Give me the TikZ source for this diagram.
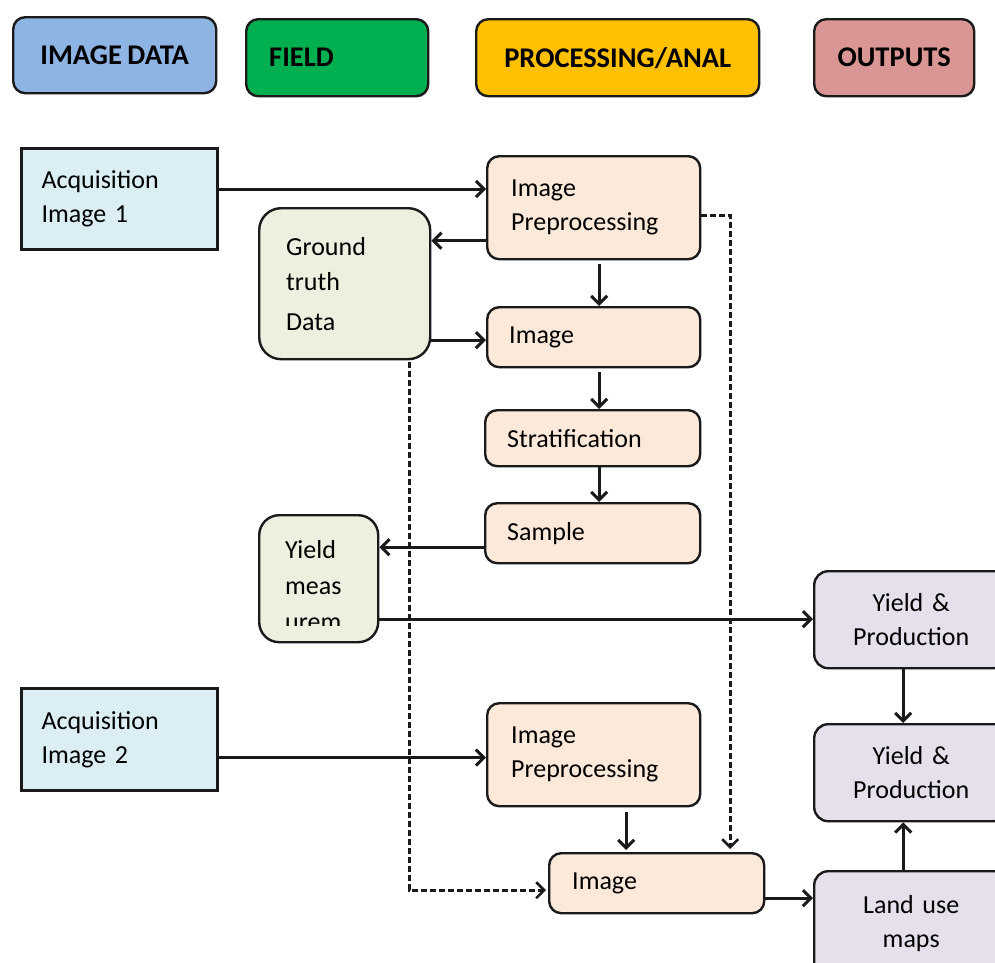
\documentclass[tikz,border=0pt]{standalone}
\usepackage{fontspec}
\setmainfont{Carlito}[WordSpace=0.85]
\usetikzlibrary{arrows.meta,calc}
\definecolor{hImg}{HTML}{8EB4E3}
\definecolor{hField}{HTML}{00B050}
\definecolor{hProc}{HTML}{FFC000}
\definecolor{hOut}{HTML}{D99694}
\definecolor{fAcq}{HTML}{DAEEF3}
\definecolor{fProc}{HTML}{FDE9D9}
\definecolor{fField}{HTML}{EBF1DE}
\definecolor{fOut}{HTML}{E5E0EC}
\definecolor{edge}{HTML}{1A1A1A}
\begin{document}
\begin{tikzpicture}[x=1pt,y=-1pt,
  txt/.style={font=\fontsize{26}{34}\selectfont},
  hdr/.style={draw=edge, line width=2.4pt, rounded corners=12pt, anchor=north west,
    inner sep=0pt, align=center, font=\fontsize{28.5}{34}\bfseries\selectfont},
  bx/.style={draw=edge, line width=2.4pt, anchor=north west, inner ysep=0pt, align=left, txt},
  acq/.style={bx, fill=fAcq, line width=3pt, text width=156pt, inner xsep=20pt},
  proc/.style={bx, fill=fProc, rounded corners=12pt},
  fld/.style={bx, fill=fField, rounded corners=22pt},
  outb/.style={bx, fill=fOut, rounded corners=14pt, align=center, text width=174pt, inner xsep=10pt},
  arr/.style={line width=3pt, draw=edge, -{Straight Barb[length=8pt,width=16pt]}},
  darr/.style={arr, line width=2.6pt, dash pattern=on 6pt off 3pt}
]
\useasboundingbox (0,0) rectangle (995,962);
\clip (0,0) rectangle (995,962);

% legend
\node[hdr, fill=hImg, minimum width=203pt, minimum height=76pt] (h1) at (12,16) {IMAGE DATA};
\node[hdr, fill=hField, minimum width=182pt, minimum height=77pt, align=left, text width=136pt, inner xsep=23pt] (h2) at (245,18) {FIELD};
\node[hdr, fill=hProc, minimum width=283pt, minimum height=77pt] (h3) at (475,18) {PROCESSING/ANAL};
\node[hdr, fill=hOut, minimum width=160pt, minimum height=77pt] (h4) at (813,18) {OUTPUTS};

% image data
\node[acq, minimum height=101pt] (acq1) at (20,147) {Acquisition\\Image 1};
\node[acq, minimum height=102pt] (acq2) at (20,687) {Acquisition\\Image 2};

% processing
\node[proc, text width=165pt, inner xsep=24pt, minimum height=103pt] (ip1) at (486,155) {Image\\Preprocessing};
\node[proc, text width=169pt, inner xsep=22pt, minimum height=60pt] (img2) at (486,306) {Image};
\node[proc, text width=171pt, inner xsep=22pt, minimum height=56pt] (strat) at (484,409) {Stratification};
\node[proc, text width=171pt, inner xsep=22pt, minimum height=60pt] (sample) at (484,502) {Sample};
\node[proc, text width=165pt, inner xsep=24pt, minimum height=103pt] (ip2) at (486,702) {Image\\Preprocessing};
\node[proc, text width=169pt, inner xsep=23pt, minimum height=60pt] (img3) at (548,852) {Image};

% field
\node[fld, text width=117pt, inner xsep=27pt, minimum height=151pt, font=\fontsize{26}{35}\selectfont] (gt) at (258,207) {Ground\\truth\\[5pt]Data};
\node[fld, rounded corners=20pt, minimum width=119pt, minimum height=127pt] (ym) at (258,514) {};
\begin{scope}
  \clip (258,514) rectangle (377,625);
  \node[anchor=north west, inner sep=0pt, align=left, font=\fontsize{26}{36}\selectfont] (ymt) at (285,540) {Yield\\meas\\urem};
\end{scope}

% outputs
\node[outb, minimum height=97pt] (yp1) at (813,570) {Yield \&\\Production};
\node[outb, minimum height=97pt] (yp2) at (813,723) {Yield \&\\Production};
\node[outb, minimum height=105pt] (lu) at (813,870) {Land use\\maps};

% connectors
\draw[arr] ($(acq1.east)+(0,-10)$) -- ($(acq1.east -| ip1.west)+(0,-10)$);
\draw[arr] ($(ip1.west)+(0,33)$) -- ($(ip1.west -| gt.east)+(0,33)$);
\draw[arr] ($(ip1.south)+(5.5,4)$) -- ($(img2.north)+(5.5,0)$);
\draw[arr] ($(gt.east |- img2.west)+(0,3)$) -- ($(img2.west)+(0,3)$);
\draw[arr] ($(img2.south)+(5.5,4)$) -- ($(strat.north)+(6.5,0)$);
\draw[arr] ($(strat.south)+(6.5,0)$) -- ($(sample.north)+(6.5,0)$);
\draw[arr] ($(sample.west)+(0,14)$) -- ($(sample.west -| ym.east)+(0,14)$);
\draw[arr] ($(ym.east)+(0,40.5)$) -- ($(ym.east -| yp1.west)+(0,40.5)$);
\draw[arr] ($(yp1.south)+(-8,0)$) -- ($(yp2.north)+(-8,0)$);
\draw[arr] ($(lu.north)+(-8,0)$) -- ($(yp2.south)+(-8,0)$);
\draw[arr] ($(acq2.east)+(0,18)$) -- ($(acq2.east -| ip2.west)+(0,18)$);
\draw[arr] ($(ip2.south)+(32.5,5)$) -- ($(img3.north)+(-30.5,-2)$);
\draw[arr] ($(img3.east)+(0,15)$) -- ($(img3.east -| lu.west)+(0,15)$);
\draw[darr] ($(ip1.east)+(0,7.5)$) -| ($(img3.north)+(73.5,-3)$);
\draw[darr] ($(gt.south)+(64.5,2)$) |- ($(img3.west)+(-2,7)$);
\end{tikzpicture}
\end{document}
